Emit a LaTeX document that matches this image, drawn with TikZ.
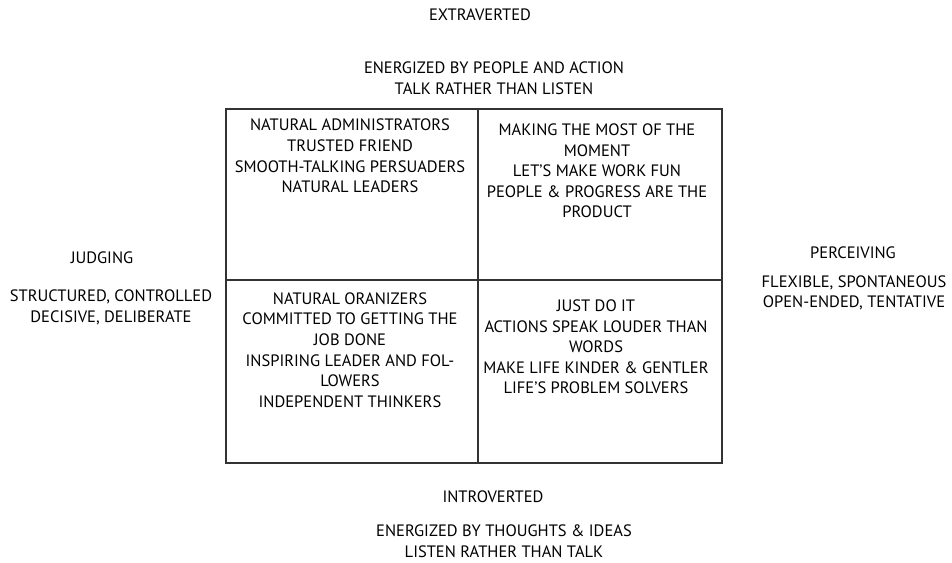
\documentclass[tikz,border=0pt]{standalone}
\usepackage{fontspec}
\setmainfont{PT Sans}
\begin{document}
\begin{tikzpicture}[x=1pt,y=-1pt]
\tikzset{lbl/.style={align=center,inner sep=0pt,font=\fontsize{16.5}{20.6}\selectfont}}
\useasboundingbox (0,0) rectangle (952,562);

%grid
\coordinate (tl) at (226,109);
\coordinate (br) at (722,463);
\coordinate (mt) at (478,109);
\coordinate (mb) at (478,463);
\coordinate (ml) at (226,280);
\coordinate (mr) at (722,280);
\draw[line width=1.3pt,black!80] (tl) rectangle (br);
\draw[line width=1.3pt,black!80] (mt) -- (mb);
\draw[line width=1.3pt,black!80] (ml) -- (mr);

\node[lbl] (extra) at (480,15) {EXTRAVERTED};
\node[lbl] (extradesc) at (494,78) {ENERGIZED BY PEOPLE AND ACTION\\TALK RATHER THAN LISTEN};
\node[lbl] (intro) at (493,497) {INTROVERTED};
\node[lbl] (introdesc) at (504,541) {ENERGIZED BY THOUGHTS \& IDEAS\\LISTEN RATHER THAN TALK};
\node[lbl] (judg) at (102,258) {JUDGING};
\node[lbl] (judgdesc) at (111,307.5) {STRUCTURED, CONTROLLED\\DECISIVE, DELIBERATE};
\node[lbl] (perc) at (853,253) {PERCEIVING};
\node[lbl] (percdesc) at (854,293) {FLEXIBLE, SPONTANEOUS\\OPEN-ENDED, TENTATIVE};

%cells
\node[lbl] (ej) at (350,156) {NATURAL ADMINISTRATORS\\TRUSTED FRIEND\\SMOOTH-TALKING PERSUADERS\\NATURAL LEADERS};
\node[lbl] (ep) at (597,171) {MAKING THE MOST OF THE\\MOMENT\\LET'S MAKE WORK FUN\\PEOPLE \& PROGRESS ARE THE\\PRODUCT};
\node[lbl] (ij) at (350,350) {NATURAL ORANIZERS\\COMMITTED TO GETTING THE\\JOB DONE\\INSPIRING LEADER AND FOL-\\LOWERS\\INDEPENDENT THINKERS};
\node[lbl] (ip) at (596,347) {JUST DO IT\\ACTIONS SPEAK LOUDER THAN\\WORDS\\MAKE LIFE KINDER \& GENTLER\\LIFE'S PROBLEM SOLVERS};
\end{tikzpicture}
\end{document}
